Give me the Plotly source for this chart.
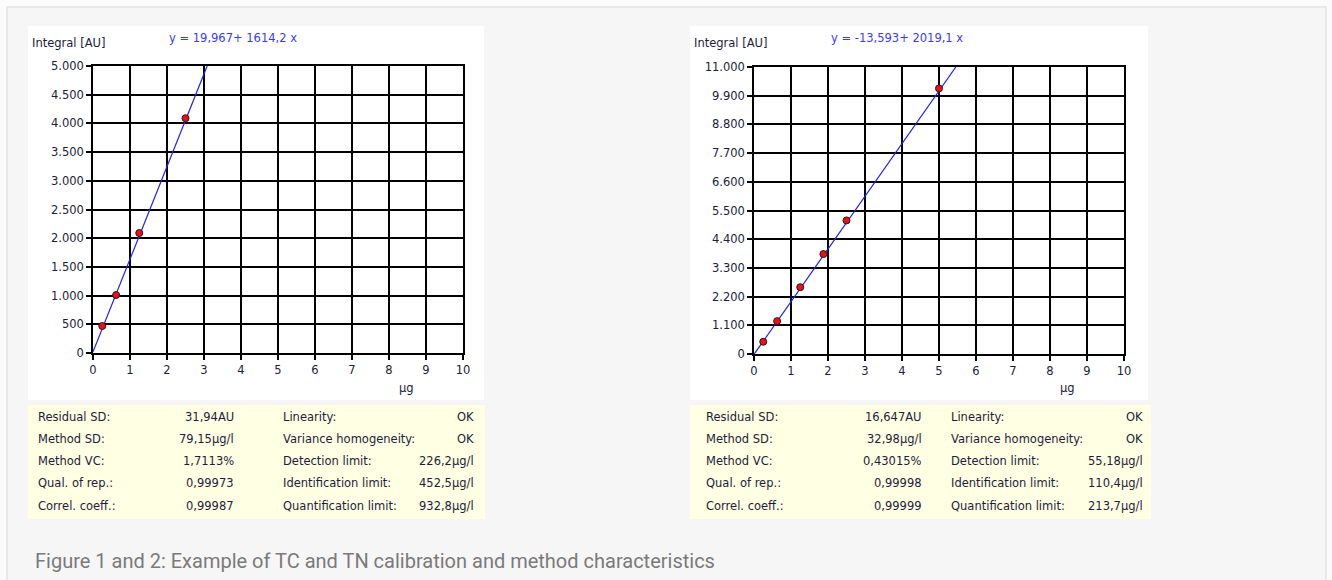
import plotly.graph_objects as go

W, H = 1332, 580

# ---- data ----
tc_x = [0.25, 0.625, 1.25, 2.5]
tc_y = [470, 1010, 2090, 4090]
tc_fit_x = [0, 3.085]
tc_fit_y = [19.967, 5000]
tc_equation = "y = 19,967+ 1614,2 x"

tn_x = [0.25, 0.625, 1.25, 1.875, 2.5, 5.0]
tn_y = [470, 1260, 2560, 3830, 5120, 10180]
tn_fit_x = [0, 5.455]
tn_fit_y = [-13.593, 11000]
tn_equation = "y = -13,593+ 2019,1 x"

x_ticks = list(range(0, 11))
tc_y_ticks = [0, 500, 1000, 1500, 2000, 2500, 3000, 3500, 4000, 4500, 5000]
tn_y_ticks = [0, 1100, 2200, 3300, 4400, 5500, 6600, 7700, 8800, 9900, 11000]

stat_labels_1 = ["Residual SD:", "Method SD:", "Method VC:", "Qual. of rep.:", "Correl. coeff.:"]
stat_labels_2 = ["Linearity:", "Variance homogeneity:", "Detection limit:", "Identification limit:", "Quantification limit:"]
tc_values_1 = ["31,94AU", "79,15µg/l", "1,7113%", "0,99973", "0,99987"]
tc_values_2 = ["OK", "OK", "226,2µg/l", "452,5µg/l", "932,8µg/l"]
tn_values_1 = ["16,647AU", "32,98µg/l", "0,43015%", "0,99998", "0,99999"]
tn_values_2 = ["OK", "OK", "55,18µg/l", "110,4µg/l", "213,7µg/l"]

caption = "Figure 1 and 2: Example of TC and TN calibration and method characteristics"

FONT = "DejaVu Sans"
FS = 11.5
TXT = "#1c1c3c"
BLUE = "#3a3aff"


def px(x):
    return x / W


def py(y):
    return 1 - y / H


fig = go.Figure()

# fit lines and points
fig.add_trace(go.Scatter(x=tc_fit_x, y=tc_fit_y, mode="lines", line=dict(color="#1f1fff", width=1.2),
                         xaxis="x", yaxis="y", hoverinfo="skip"))
fig.add_trace(go.Scatter(x=tc_x, y=tc_y, mode="markers",
                         marker=dict(color="#e8101a", size=7, line=dict(color="#3a1010", width=1)),
                         xaxis="x", yaxis="y", cliponaxis=False))
fig.add_trace(go.Scatter(x=tn_fit_x, y=tn_fit_y, mode="lines", line=dict(color="#1f1fff", width=1.2),
                         xaxis="x2", yaxis="y2", hoverinfo="skip"))
fig.add_trace(go.Scatter(x=tn_x, y=tn_y, mode="markers",
                         marker=dict(color="#e8101a", size=7, line=dict(color="#3a1010", width=1)),
                         xaxis="x2", yaxis="y2", cliponaxis=False))

axis_common = dict(showgrid=True, gridcolor="black", gridwidth=1.5, zeroline=False,
                   showline=True, linecolor="black", linewidth=1.5, mirror=True,
                   ticks="outside", ticklen=5, tickcolor="black", tickwidth=1.5,
                   tickfont=dict(family=FONT, size=FS, color=TXT), fixedrange=True)

fig.update_layout(
    width=W, height=H, margin=dict(l=0, r=0, t=0, b=0, autoexpand=False),
    autosize=False,
    paper_bgcolor="#fbfbfb", plot_bgcolor="white", showlegend=False,
    separators=",.",
    xaxis=dict(domain=[px(93), px(463)], range=[0, 10], tickvals=x_ticks, anchor="y", **axis_common),
    yaxis=dict(domain=[py(353), py(66)], range=[0, 5000], tickvals=tc_y_ticks, tickformat=",d",
               separatethousands=True, anchor="x", **axis_common),
    xaxis2=dict(domain=[px(754), px(1124)], range=[0, 10], tickvals=x_ticks, anchor="y2", **axis_common),
    yaxis2=dict(domain=[py(354), py(67)], range=[0, 11000], tickvals=tn_y_ticks, tickformat=",d",
                separatethousands=True, anchor="x2", **axis_common),
)

shapes = []
# outer page frame
shapes.append(dict(type="rect", xref="paper", yref="paper", x0=px(7), x1=px(1326), y0=py(600), y1=py(7),
                   line=dict(color="#e4e4e4", width=1.5), fillcolor="#f6f6f6", layer="below"))
# white panels
for x0, x1 in [(28, 484), (690, 1148)]:
    shapes.append(dict(type="rect", xref="paper", yref="paper", x0=px(x0), x1=px(x1), y0=py(400), y1=py(26),
                       line=dict(width=0), fillcolor="white", layer="below"))
# yellow stats panels
for x0, x1 in [(28, 485), (690, 1151)]:
    shapes.append(dict(type="rect", xref="paper", yref="paper", x0=px(x0), x1=px(x1), y0=py(519), y1=py(405),
                       line=dict(width=0), fillcolor="#ffffe3", layer="below"))
fig.update_layout(shapes=shapes)

ann = []


def text(x, y, s, anchor="left", color=TXT, size=FS, family=FONT):
    ann.append(dict(x=px(x), y=py(y), xref="paper", yref="paper", text=s, showarrow=False,
                    xanchor=anchor, yanchor="middle", font=dict(family=family, size=size, color=color)))


# titles
text(30, 43, "Integral [AU]")
text(167, 38, tc_equation, color=BLUE)
text(397, 388, "µg")
text(692, 43, "Integral [AU]")
text(829, 38, tn_equation, color=BLUE)
text(1058, 388, "µg")

rows_y = [417, 439, 461, 483, 506]
for i, yy in enumerate(rows_y):
    text(36, yy, stat_labels_1[i])
    text(236, yy, tc_values_1[i], anchor="right")
    text(281, yy, stat_labels_2[i])
    text(476, yy, tc_values_2[i], anchor="right")

    text(704, yy, stat_labels_1[i])
    text(924, yy, tn_values_1[i], anchor="right")
    text(949, yy, stat_labels_2[i])
    text(1145, yy, tn_values_2[i], anchor="right")

text(33, 561, caption, color="#7a7a7a", size=20, family="Roboto")

fig.update_layout(annotations=ann)

fig.write_html("out.html", config={"displayModeBar": False},
               post_script="document.body.style.margin='0';document.body.style.overflow='hidden';")
